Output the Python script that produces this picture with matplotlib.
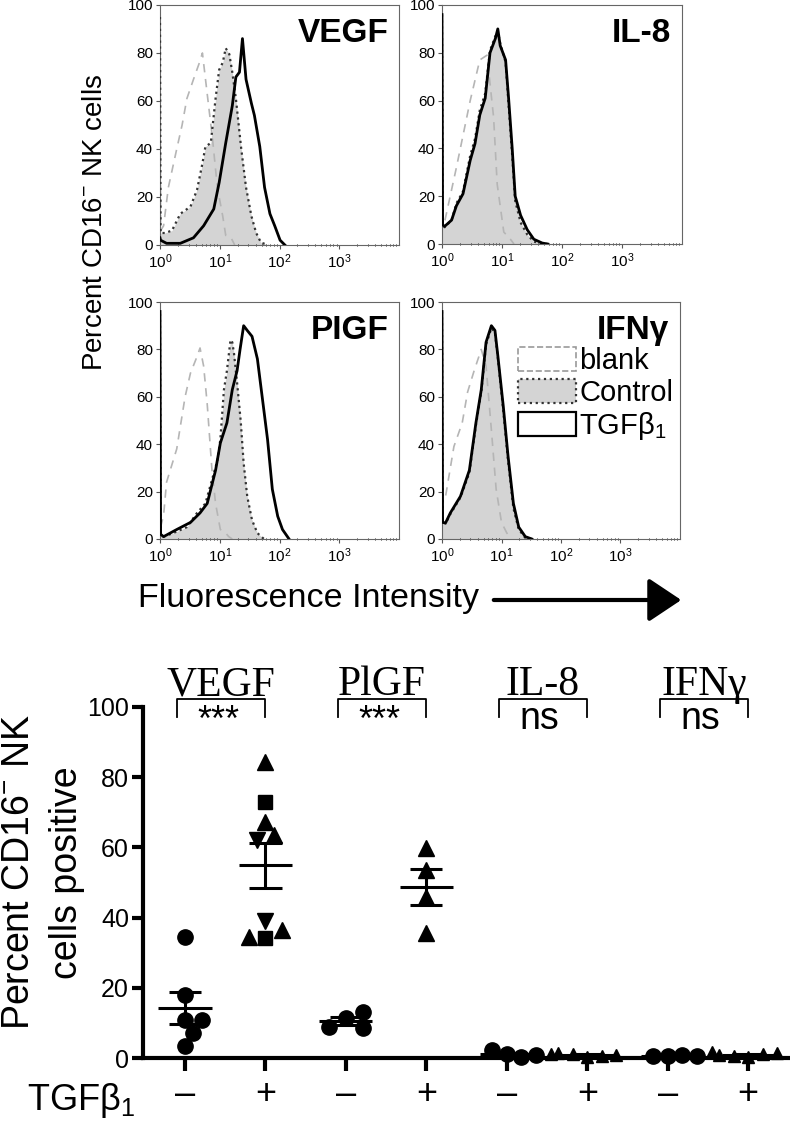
import numpy as np
import matplotlib
matplotlib.use('Agg')
import matplotlib.pyplot as plt
from matplotlib.patches import Patch, FancyArrowPatch

plt.rcParams['font.family'] = ['Liberation Sans', 'DejaVu Sans']
plt.rcParams['mathtext.default'] = 'regular'

# ---- histogram data (x in log10 decades, y = percent of max) ----
vegf_blank_x = [0, 0.01, 0.06, 0.14, 0.28, 0.37, 0.45, 0.56, 0.66, 0.71, 0.79, 0.88, 0.96, 1.05, 1.10, 1.19, 1.25]
vegf_blank_y = [100, 6, 8, 24, 40, 50, 61, 69, 76, 80, 63, 44, 24, 12, 4, 3, 0]
vegf_ctrl_x = [0, 0.01, 0.08, 0.2, 0.34, 0.51, 0.62, 0.71, 0.76, 0.85, 0.93, 0.99, 1.05, 1.10, 1.16, 1.21, 1.27, 1.36, 1.44, 1.53, 1.61, 1.69, 1.81]
vegf_ctrl_y = [95, 5, 5, 6, 13, 16, 23, 34, 41, 42.5, 61, 73, 76, 82, 79.5, 72, 61, 40, 24, 12, 5, 1, 0]
vegf_tgf_x = [0, 0.01, 0.11, 0.34, 0.56, 0.73, 0.90, 0.99, 1.10, 1.21, 1.27, 1.33, 1.38, 1.44, 1.53, 1.58, 1.67, 1.75, 1.84, 1.92, 2.01, 2.09]
vegf_tgf_y = [3, 2, 0.7, 0.7, 3, 8, 15, 26, 42.5, 58, 70, 72, 86, 69, 59, 54, 41, 24, 13, 8, 2, 0]

il8_blank_x = [0, 0.01, 0.05, 0.24, 0.47, 0.63, 0.75, 0.86, 0.92, 1.03, 1.14, 1.2]
il8_blank_y = [100, 8, 10, 32, 60, 77, 79, 53, 25, 5, 2, 0]
il8_ctrl_x = [0, 0.01, 0.045, 0.16, 0.24, 0.35, 0.47, 0.55, 0.63, 0.72, 0.80, 0.89, 0.93, 0.97, 1.06, 1.11, 1.17, 1.22, 1.31, 1.42, 1.53, 1.67, 1.76]
il8_ctrl_y = [96, 8, 7, 10, 17, 22, 37, 44, 56, 63, 81, 87, 89, 84, 76, 58, 37, 18, 9, 4, 1, 0.2, 0]
il8_tgf_x = il8_ctrl_x
il8_tgf_y = [96, 8, 7.4, 10, 16, 21, 35, 42, 54, 61, 80, 86, 90, 83, 77, 61, 40, 20, 12, 6, 2, 0.4, 0]

plgf_blank_x = [0, 0.01, 0.06, 0.11, 0.28, 0.42, 0.51, 0.62, 0.67, 0.73, 0.79, 0.87, 0.93, 1.01, 1.10, 1.15, 1.21]
plgf_blank_y = [100, 5, 10, 24, 38, 60, 70, 77, 80.6, 73, 57, 29, 15, 4, 2.5, 1, 0]
plgf_ctrl_x = [0, 0.01, 0.06, 0.22, 0.45, 0.62, 0.76, 0.87, 0.96, 1.01, 1.07, 1.12, 1.18, 1.21, 1.24, 1.29, 1.35, 1.40, 1.46, 1.54, 1.63, 1.74]
plgf_ctrl_y = [95, 2, 1, 2.5, 5, 11, 15, 25, 33, 42, 63, 71, 84, 83, 78, 66, 50, 32, 18, 8, 2.5, 0]
plgf_tgf_x = [0, 0.01, 0.06, 0.28, 0.51, 0.67, 0.79, 0.93, 1.01, 1.12, 1.21, 1.29, 1.34, 1.40, 1.46, 1.54, 1.63, 1.71, 1.80, 1.88, 1.97, 2.05, 2.16]
plgf_tgf_y = [96, 2, 1, 4, 7, 11, 15, 29, 40.5, 49, 63, 71, 80, 90, 88, 85.5, 76, 60, 42, 21, 9.6, 4, 0]

ifng_blank_x = [0, 0.01, 0.06, 0.2, 0.34, 0.43, 0.54, 0.66, 0.74, 0.83, 0.91, 1.0, 1.09, 1.17]
ifng_blank_y = [100, 15, 18, 39, 49, 62, 71, 80, 73, 46, 21, 7, 2.5, 0]
ifng_ctrl_x = [0, 0.01, 0.06, 0.14, 0.31, 0.46, 0.57, 0.66, 0.74, 0.83, 0.89, 0.94, 1.03, 1.11, 1.2, 1.29, 1.4, 1.51]
ifng_ctrl_y = [96, 7, 6.5, 10.5, 17.5, 28, 48, 62, 82, 89, 87, 76, 54, 33, 13, 4, 0.5, 0]
ifng_tgf_x = ifng_ctrl_x
ifng_tgf_y = [96, 7, 6.8, 11, 18, 29, 49, 63, 83, 90, 88, 77, 56, 35, 15, 5, 1, 0]

# ---- scatter data (percent positive) ----
groups = ['VEGF', 'PlGF', 'IL-8', 'IFNγ']
signif = ['***', '***', 'ns', 'ns']
vegf_ctrl = [34.6, 18.0, 10.9, 10.9, 7.1, 3.3]
vegf_tgf = [84.4, 73.0, 67.3, 63.5, 62.0, 38.9, 36.5, 34.1, 34.6]
vegf_tgf_mk = ['^', 's', '^', '^', 'v', 'v', '^', 's', '^']
plgf_ctrl = [11.3, 8.5, 8.9, 13.2]
plgf_tgf = [59.7, 53.6, 46.0, 35.5]
il8_ctrl = [1.2, 0.4, 2.2, 0.8]
il8_tgf = [0.3, 0.5, 1.2, 0.8, 1.5, 1.0]
ifng_ctrl = [0.6, 0.8, 0.5, 0.7]
ifng_tgf = [0.4, 1.0, 0.6, 1.3, 0.8, 1.6]
tick_signs = ['–', '+'] * 4

W, H = 790, 1124
fig = plt.figure(figsize=(W / 100, H / 100), dpi=100)


def px_axes(l, t, r, b):
    return fig.add_axes([l / W, 1 - b / H, (r - l) / W, (b - t) / H])


def draw_hist(ax, blank, ctrl, tgf, title, legend=False):
    bx, by = 10 ** np.array(blank[0]), np.array(blank[1])
    cx, cy = 10 ** np.array(ctrl[0]), np.array(ctrl[1])
    tx, ty = 10 ** np.array(tgf[0]), np.array(tgf[1])
    ax.fill_between(cx, cy, 0, color='#d4d4d4', lw=0, zorder=1)
    ax.plot(bx, by, color='#b5b5b5', ls=(0, (5, 4)), lw=1.2, zorder=2)
    ax.plot(cx, cy, color='#333333', ls=':', lw=1.6, zorder=3)
    ax.plot(tx, ty, color='black', lw=2.0, zorder=4)
    ax.set_xscale('log')
    ax.set_xlim(1, 1e4)
    ax.set_ylim(0, 100)
    ax.set_xticks([1, 10, 100, 1000])
    ax.set_yticks([0, 20, 40, 60, 80, 100])
    ax.tick_params(labelsize=11, length=3, width=0.8, color='#555555', pad=2)
    ax.tick_params(axis='x', which='minor', length=2, width=0.6, direction='inout')
    for s in ax.spines.values():
        s.set_color('#666666')
        s.set_linewidth(0.8)
    ax.text(0.955, 0.945, title, transform=ax.transAxes, ha='right', va='top',
            fontsize=24, fontweight='bold')
    if legend:
        handles = [Patch(facecolor='white', edgecolor='#999999', linestyle='--', lw=1.2),
                   Patch(facecolor='#d4d4d4', edgecolor='#333333', linestyle=':', lw=1.6),
                   Patch(facecolor='white', edgecolor='black', lw=1.6)]
        ax.legend(handles, ['blank', 'Control', 'TGFβ$_1$'], loc='upper left',
                  bbox_to_anchor=(0.32, 0.81), fontsize=21, frameon=False,
                  handlelength=2.0, handleheight=0.9, handletextpad=0.1,
                  labelspacing=0.12, borderpad=0, borderaxespad=0)


ax1 = px_axes(160, 5, 399, 245)
draw_hist(ax1, (vegf_blank_x, vegf_blank_y), (vegf_ctrl_x, vegf_ctrl_y), (vegf_tgf_x, vegf_tgf_y), 'VEGF')
ax2 = px_axes(442, 5, 682, 244)
draw_hist(ax2, (il8_blank_x, il8_blank_y), (il8_ctrl_x, il8_ctrl_y), (il8_tgf_x, il8_tgf_y), 'IL-8')
ax3 = px_axes(160, 302, 399, 539)
draw_hist(ax3, (plgf_blank_x, plgf_blank_y), (plgf_ctrl_x, plgf_ctrl_y), (plgf_tgf_x, plgf_tgf_y), 'PIGF')
ax4 = px_axes(442, 302, 680, 539)
draw_hist(ax4, (ifng_blank_x, ifng_blank_y), (ifng_ctrl_x, ifng_ctrl_y), (ifng_tgf_x, ifng_tgf_y), 'IFNγ', legend=True)

fig.text(95 / W, 1 - 222 / H, 'Percent CD16$^{-}$ NK cells', rotation=90,
         ha='center', va='center', fontsize=20)
fig.text(138 / W, 1 - 598 / H, 'Fluorescence Intensity', ha='left', va='center', fontsize=24.5)
fig.add_artist(FancyArrowPatch((491 / W, 1 - 600 / H), (684 / W, 1 - 600 / H),
                               transform=fig.transFigure,
                               arrowstyle='-|>,head_length=0.45,head_width=0.3',
                               mutation_scale=45, lw=3, color='black'))

# ---- bottom scatter ----
ax = px_axes(143, 707, 790, 1058)
ax.set_xlim(0.478, 8.52)
ax.set_ylim(0, 100)
for s in ['top', 'right']:
    ax.spines[s].set_visible(False)
for s in ['left', 'bottom']:
    ax.spines[s].set_linewidth(3)
ax.set_yticks([0, 20, 40, 60, 80, 100])
ax.tick_params(axis='y', labelsize=18, length=8, width=3, pad=2)
ax.set_xticks(range(1, 9))
ax.set_xticklabels(tick_signs)
ax.tick_params(axis='x', labelsize=26, length=9, width=3, pad=5)


def swarm(values, pos, d=14):
    placed, xs = [], []
    for v in values:
        x0, y0 = ax.transData.transform((pos, v))
        for k in [0, 1, -1, 2, -2, 3, -3, 4, -4, 5, -5]:
            xp = x0 + k * d * 0.6
            if all((xp - a) ** 2 + (y0 - b) ** 2 >= d * d for a, b in placed):
                break
        placed.append((xp, y0))
        xs.append(ax.transData.inverted().transform((xp, y0))[0])
    return xs


sets = [(vegf_ctrl, None), (vegf_tgf, vegf_tgf_mk), (plgf_ctrl, None), (plgf_tgf, None),
        (il8_ctrl, None), (il8_tgf, None), (ifng_ctrl, None), (ifng_tgf, None)]
for i, (vals, mks) in enumerate(sets):
    pos = i + 1
    if mks is None:
        mks = ['o' if i % 2 == 0 else '^'] * len(vals)
    small = max(vals) < 5
    xs = swarm(vals, pos, d=12 if small else 14)
    for x, v, m in zip(xs, vals, mks):
        ms = {'o': 11, '^': 11, 'v': 11, 's': 9.5}[m]
        if small and m == '^':
            ms = 8
        ax.plot(x, v, marker=m, ms=ms, color='black', ls='none', zorder=3, clip_on=False)
    m = np.mean(vals)
    se = np.std(vals, ddof=1) / np.sqrt(len(vals))
    ax.hlines(m, pos - 0.33, pos + 0.33, color='black', lw=2.2, zorder=2)
    ax.hlines([m - se, m + se], pos - 0.2, pos + 0.2, color='black', lw=2.2, zorder=2)
    ax.vlines(pos, m - se, m + se, color='black', lw=2.2, zorder=2)

for j, (g, sg) in enumerate(zip(groups, signif)):
    a, b = 2 * j + 1, 2 * j + 2
    xl, xr = a - 0.1, b
    ax.plot([xl, xl, xr, xr], [97.2, 102.3, 102.3, 97.2], color='black', lw=1.3, clip_on=False)
    xc = (xl + xr) / 2
    ax.text(xc, 103.4, g, ha='center', va='baseline', fontsize=30,
            family=['Liberation Serif', 'DejaVu Serif'], clip_on=False)
    if sg == '***':
        ax.text(xc - 0.03, 93.2, sg, ha='center', va='baseline', fontsize=26, clip_on=False)
    else:
        ax.text(xc - 0.05, 93.6, sg, ha='center', va='baseline', fontsize=27, clip_on=False)

fig.text(19 / W, 1 - 872 / H, 'Percent CD16$^{-}$ NK', rotation=90, ha='center', va='center', fontsize=27)
fig.text(67 / W, 1 - 873 / H, 'cells positive', rotation=90, ha='center', va='center', fontsize=27)
fig.text(27 / W, 1 - 1100 / H, 'TGFβ$_1$', ha='left', va='center', fontsize=26)

fig.savefig('out.png', dpi=100)
